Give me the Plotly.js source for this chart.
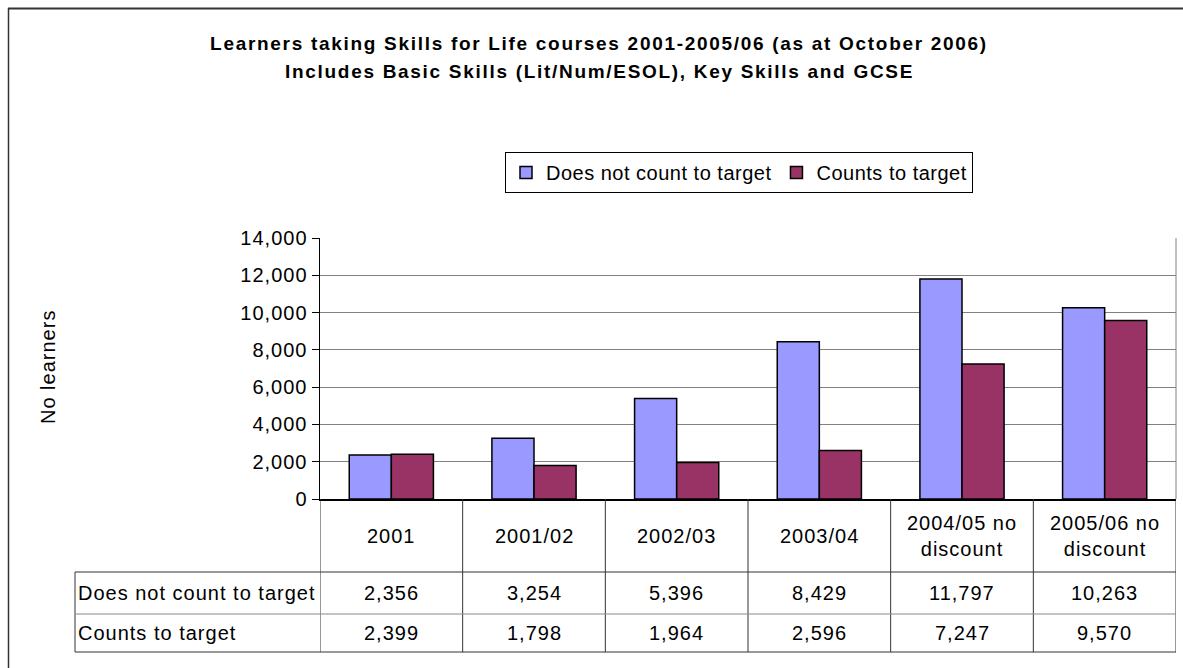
<!DOCTYPE html>
<html>
<head>
<meta charset="utf-8">
<script src="https://cdn.plot.ly/plotly-3.0.1.min.js"></script>
<style>
html,body{margin:0;padding:0;background:#fff;overflow:hidden;}
#chart{width:1183px;height:668px;}
text{letter-spacing:1px;}
text.legendtext{letter-spacing:0.5px;}
tspan[style*="bold"]{letter-spacing:1.7px;}
</style>
</head>
<body>
<div id="chart"></div>
<script>
var categories = ["2001", "2001/02", "2002/03", "2003/04", "2004/05 no discount", "2005/06 no discount"];
var headerLabels = ["2001", "2001/02", "2002/03", "2003/04", "2004/05 no<br>discount", "2005/06 no<br>discount"];
var seriesNames = ["Does not count to target", "Counts to target"];
var doesNotCount = [2356, 3254, 5396, 8429, 11797, 10263];
var countsToTarget = [2399, 1798, 1964, 2596, 7247, 9570];
var yTicks = [0, 2000, 4000, 6000, 8000, 10000, 12000, 14000];
var titleLine1 = "Learners taking Skills for Life courses 2001-2005/06 (as at October 2006)";
var titleLine2 = "Includes Basic Skills (Lit/Num/ESOL), Key Skills and GCSE";
var yTitle = "No learners";

var W = 1183, H = 668;
function px(x){ return x / W; }
function py(y){ return 1 - y / H; }

var FONT = "Liberation Sans, Arial, sans-serif";
var plotL = 320, plotR = 1176, plotT = 238, plotB = 499;
var tblL = 75, rowH = 572, row1 = 614, rowEnd = 652;

var series = [doesNotCount, countsToTarget];
var colors = ["#9999FF", "#993366"];

var traces = series.map(function(vals, k){
  return {
    type: "bar",
    name: seriesNames[k],
    x: categories,
    y: vals,
    marker: {color: colors[k], line: {color: "#000000", width: 1.5}},
    hoverinfo: "x+y+name"
  };
});

var shapes = [];
// outer chart border (top and left; the rest runs off the picture)
shapes.push({type: "line", xref: "paper", yref: "paper", x0: px(8), x1: px(1183), y0: py(8.5), y1: py(8.5),
  line: {color: "#333333", width: 2}});
shapes.push({type: "line", xref: "paper", yref: "paper", x0: px(8.5), x1: px(8.5), y0: py(668), y1: py(8),
  line: {color: "#333333", width: 1.5}});
// plot area border (right side)
shapes.push({type: "line", xref: "paper", yref: "paper", x0: px(plotR), x1: px(plotR), y0: py(plotB), y1: py(plotT),
  line: {color: "#808080", width: 1}});
// table vertical lines at category boundaries
for (var i = 0; i <= categories.length; i++) {
  shapes.push({type: "line", xref: "x", yref: "paper", x0: i - 0.5, x1: i - 0.5, y0: py(rowEnd), y1: py(plotB),
    line: {color: "#333333", width: 1}});
}
// row label column left edge
shapes.push({type: "line", xref: "paper", yref: "paper", x0: px(tblL), x1: px(tblL), y0: py(rowEnd), y1: py(rowH),
  line: {color: "#333333", width: 1}});
// horizontal table lines
[[rowH, "#333333"], [row1, "#888888"], [rowEnd, "#333333"]].forEach(function(r){
  shapes.push({type: "line", xref: "paper", yref: "paper", x0: px(tblL), x1: px(plotR), y0: py(r[0]), y1: py(r[0]),
    line: {color: r[1], width: 1}});
});

var annotations = [];
var tf = {family: FONT, size: 20, color: "#000000"};
// second title line
annotations.push({xref: "paper", yref: "paper", x: px(599), y: py(72), text: "<b>" + titleLine2 + "</b>",
  showarrow: false, xanchor: "center", yanchor: "middle",
  font: {family: FONT, size: 19, color: "#000000"}});
// header labels
headerLabels.forEach(function(lbl, i){
  annotations.push({xref: "x", yref: "paper", x: i, y: py((plotB + rowH) / 2), text: lbl, showarrow: false,
    xanchor: "center", yanchor: "middle", font: tf, align: "center"});
});
// row labels and values
var rowCenters = [(rowH + row1) / 2, (row1 + rowEnd) / 2];
series.forEach(function(vals, k){
  annotations.push({xref: "paper", yref: "paper", x: px(tblL + 1), y: py(rowCenters[k]), text: seriesNames[k],
    showarrow: false, xanchor: "left", yanchor: "middle", font: tf});
  vals.forEach(function(v, i){
    annotations.push({xref: "x", yref: "paper", x: i, y: py(rowCenters[k]), text: v.toLocaleString("en-US"),
      showarrow: false, xanchor: "center", yanchor: "middle", font: tf});
  });
});
// y axis title
annotations.push({xref: "paper", yref: "paper", x: px(48), y: py(367), text: yTitle, textangle: -90,
  showarrow: false, xanchor: "center", yanchor: "middle", font: tf});

var layout = {
  width: W, height: H,
  margin: {l: 0, r: 0, t: 0, b: 0, pad: 0},
  paper_bgcolor: "#ffffff", plot_bgcolor: "#ffffff",
  font: {family: FONT, size: 20, color: "#000000"},
  title: {
    text: "<b>" + titleLine1 + "</b>",
    font: {family: FONT, size: 19, color: "#000000"},
    x: px(599), xanchor: "center", xref: "paper",
    y: py(43), yanchor: "middle", yref: "paper"
  },
  barmode: "group",
  bargap: 0.41,
  bargroupgap: 0,
  showlegend: true,
  legend: {
    orientation: "h", x: px(973), xanchor: "right", y: py(152), yanchor: "top",
    bordercolor: "#000000", borderwidth: 1, bgcolor: "#ffffff",
    font: {family: FONT, size: 20, color: "#000000"},
    traceorder: "normal", itemwidth: 30
  },
  xaxis: {
    type: "category", domain: [px(plotL), px(plotR)], range: [-0.5, 5.5],
    showticklabels: false, ticks: "", showgrid: false, zeroline: false,
    showline: true, linecolor: "#000000", linewidth: 2, fixedrange: true
  },
  yaxis: {
    domain: [py(plotB), py(plotT)], range: [0, 14000], tickvals: yTicks,
    tickformat: ",d", ticks: "outside", ticklen: 7, tickcolor: "#000000", tickwidth: 1,
    showline: true, linecolor: "#000000", linewidth: 1.5,
    showgrid: true, gridcolor: "#808080", gridwidth: 1, zeroline: false,
    tickfont: {family: FONT, size: 20, color: "#000000"}, fixedrange: true
  },
  shapes: shapes,
  annotations: annotations
};

Plotly.newPlot("chart", traces, layout, {displayModeBar: false, staticPlot: true});
</script>
</body>
</html>
